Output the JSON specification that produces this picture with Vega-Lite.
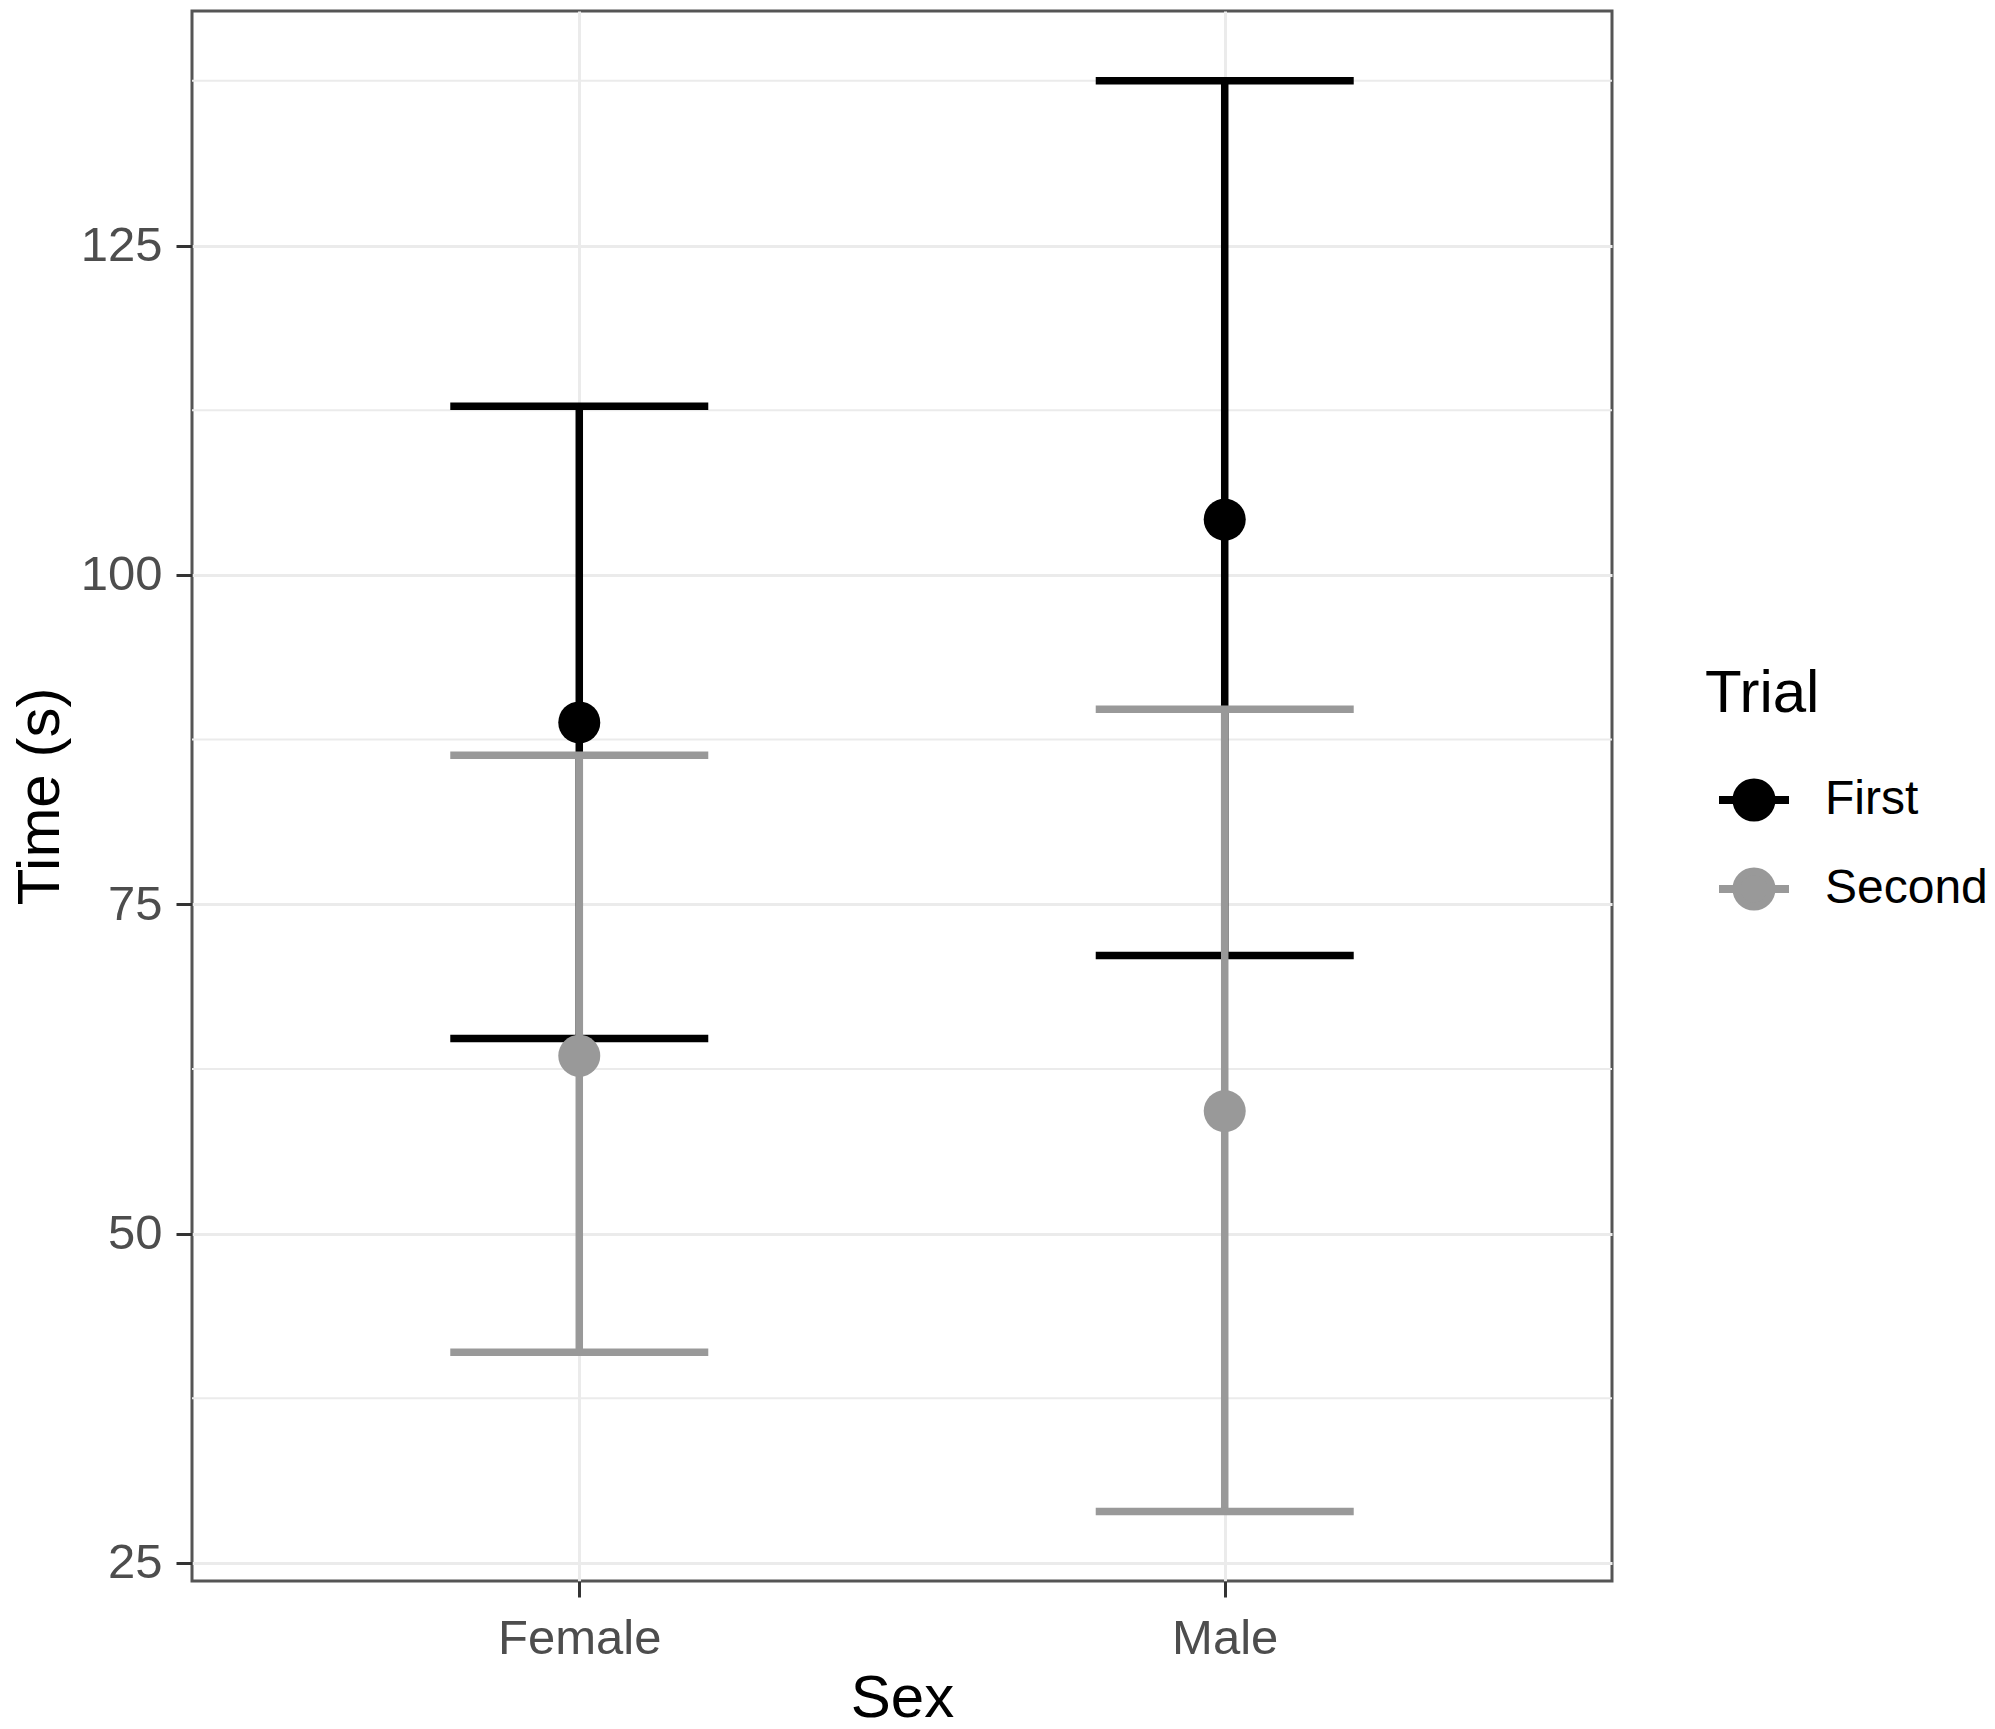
{
  "$schema": "https://vega.github.io/schema/vega-lite/v6.json",
  "width": 1420,
  "height": 1570,
  "autosize": {"type": "none"},
  "padding": {"left": 192, "top": 11, "right": 383, "bottom": 148},
  "background": "white",
  "data": {
    "values": [
      {"Sex": "Female", "Trial": "First", "mean": 88.8, "lo": 64.8, "hi": 112.8},
      {"Sex": "Female", "Trial": "Second", "mean": 63.5, "lo": 41.0, "hi": 86.3},
      {"Sex": "Male", "Trial": "First", "mean": 104.2, "lo": 71.1, "hi": 137.5},
      {"Sex": "Male", "Trial": "Second", "mean": 59.3, "lo": 28.9, "hi": 89.8}
    ]
  },
  "layer": [
    {
      "data": {"values": [{"v": 37.5}, {"v": 62.5}, {"v": 87.5}, {"v": 112.5}, {"v": 137.5}]},
      "mark": {"type": "rule", "color": "#EBEBEB", "strokeWidth": 2},
      "encoding": {
        "y": {"field": "v", "type": "quantitative", "title": "Time (s)",
              "axis": {"values": [25, 50, 75, 100, 125]},
              "scale": {"domain": [23.63, 142.8], "nice": false, "zero": false}}
      }
    },
    {
      "transform": [{"filter": "datum.Trial == 'First'"}],
      "mark": {"type": "rule", "strokeWidth": 7.5},
      "encoding": {
        "x": {"field": "Sex", "type": "nominal", "title": "Sex",
              "scale": {"type": "point", "padding": 0.6, "domain": ["Female", "Male"]}},
        "y": {"field": "lo", "type": "quantitative", "title": "Time (s)"},
        "y2": {"field": "hi"},
        "color": {"field": "Trial", "type": "nominal",
                  "scale": {"domain": ["First", "Second"], "range": ["#000000", "#999999"]}}
      }
    },
    {
      "transform": [{"filter": "datum.Trial == 'First'"}, {"fold": ["lo", "hi"], "as": ["end", "val"]}],
      "mark": {"type": "tick", "size": 258, "thickness": 7.5, "opacity": 1},
      "encoding": {
        "x": {"field": "Sex", "type": "nominal", "title": "Sex"},
        "y": {"field": "val", "type": "quantitative", "title": "Time (s)"},
        "color": {"field": "Trial", "type": "nominal"}
      }
    },
    {
      "transform": [{"filter": "datum.Trial == 'Second'"}],
      "mark": {"type": "rule", "strokeWidth": 7.5},
      "encoding": {
        "x": {"field": "Sex", "type": "nominal", "title": "Sex"},
        "y": {"field": "lo", "type": "quantitative", "title": "Time (s)"},
        "y2": {"field": "hi"},
        "color": {"field": "Trial", "type": "nominal"}
      }
    },
    {
      "transform": [{"filter": "datum.Trial == 'Second'"}, {"fold": ["lo", "hi"], "as": ["end", "val"]}],
      "mark": {"type": "tick", "size": 258, "thickness": 7.5, "opacity": 1},
      "encoding": {
        "x": {"field": "Sex", "type": "nominal", "title": "Sex"},
        "y": {"field": "val", "type": "quantitative", "title": "Time (s)"},
        "color": {"field": "Trial", "type": "nominal"}
      }
    },
    {
      "mark": {"type": "point", "filled": true, "shape": "circle", "size": 1764, "opacity": 1},
      "encoding": {
        "x": {"field": "Sex", "type": "nominal", "title": "Sex"},
        "y": {"field": "mean", "type": "quantitative", "title": "Time (s)"},
        "color": {
          "field": "Trial", "type": "nominal",
          "legend": {
            "title": "Trial",
            "orient": "none",
            "legendX": 1513,
            "legendY": 654,
            "symbolType": "M-1,0L1,0M-0.5,0A0.5,0.5,0,1,0,0.5,0A0.5,0.5,0,1,0,-0.5,0Z",
            "symbolSize": 4900,
            "symbolStrokeWidth": 8,
            "symbolOpacity": 1,
            "symbolOffset": 10,
            "labelOffset": 32,
            "labelLimit": 400,
            "rowPadding": 16,
            "titlePadding": 36,
            "encode": {
              "symbols": {"update": {"stroke": {"scale": "color", "field": "value"}, "fill": {"scale": "color", "field": "value"}}}
            }
          }
        }
      }
    }
  ],
  "config": {
    "font": "Liberation Sans",
    "view": {"stroke": "#555555", "strokeWidth": 3},
    "axis": {
      "domain": false,
      "grid": true,
      "gridColor": "#EBEBEB",
      "gridWidth": 3,
      "tickColor": "#333333",
      "tickWidth": 3,
      "tickSize": 16,
      "labelFont": "Liberation Sans",
      "labelFontSize": 49,
      "labelColor": "#4D4D4D",
      "titleFont": "Liberation Sans",
      "titleFontSize": 60,
      "titleFontWeight": "normal",
      "titleColor": "#000000"
    },
    "axisX": {"labelAngle": 0, "labelPadding": 17, "titlePadding": 6},
    "axisY": {"labelPadding": 14, "titlePadding": 9},
    "legend": {
      "titleFont": "Liberation Sans",
      "titleFontSize": 60,
      "titleFontWeight": "normal",
      "titleColor": "#000000",
      "labelFont": "Liberation Sans",
      "labelFontSize": 48,
      "labelColor": "#000000"
    }
  }
}
